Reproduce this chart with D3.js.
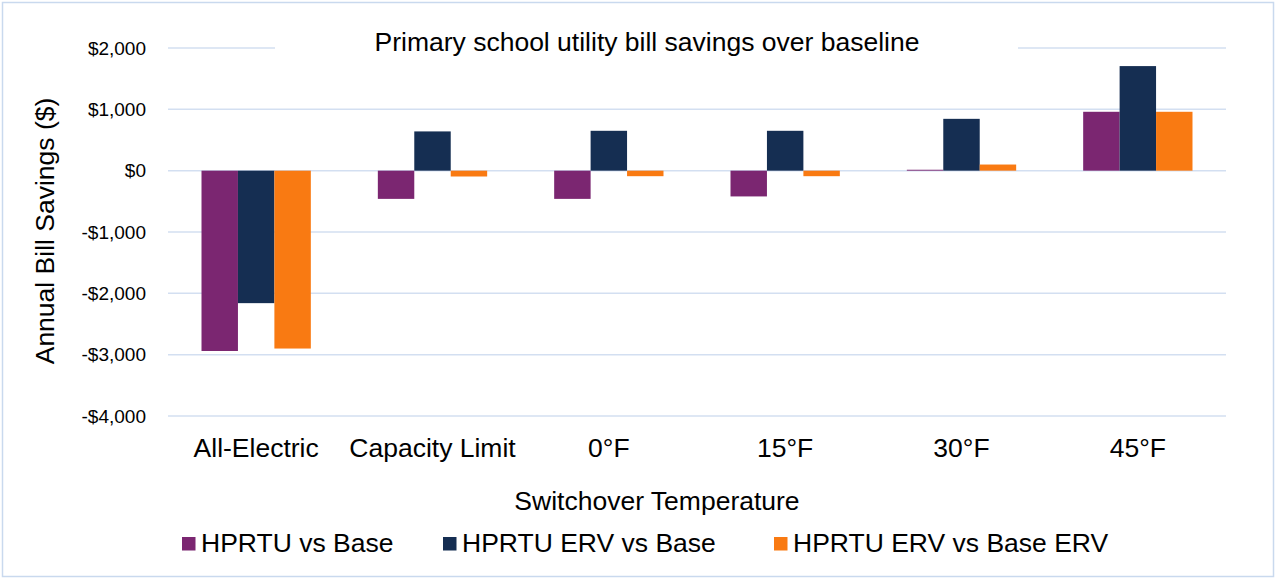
<!DOCTYPE html>
<html><head><meta charset="utf-8">
<script src="https://cdn.jsdelivr.net/npm/d3@7"></script>
<style>body{margin:0;background:#fff;} svg{display:block;font-family:"Liberation Sans",Arial,sans-serif;}</style>
</head><body>
<script>
const categories = ["All-Electric","Capacity Limit","0°F","15°F","30°F","45°F"];
const seriesNames = ["HPRTU vs Base","HPRTU ERV vs Base","HPRTU ERV vs Base ERV"];
const hprtuVsBase = [-2940,-460,-460,-420,15,960];
const hprtuErvVsBase = [-2160,640,650,650,845,1705];
const hprtuErvVsBaseErv = [-2900,-95,-90,-90,100,960];
const yTicks = [2000,1000,0,-1000,-2000,-3000,-4000];
const colors = ["#7B2671","#152E52","#F97A12"];
const series = [hprtuVsBase,hprtuErvVsBase,hprtuErvVsBaseErv];

(function(){
const W=1276,H=579, FS=26.5;
const svg=d3.select("body").append("svg").attr("width",W).attr("height",H);
svg.append("rect").attr("x",2.5).attr("y",2.5).attr("width",W-5).attr("height",H-5).attr("fill","#fff").attr("stroke","#C9D9EE").attr("stroke-width",1.5);

const pl=168,pr=1226,pt=48,pb=416;
const y=d3.scaleLinear().domain([-4000,2000]).range([pb,pt]);
const x0=d3.scaleBand().domain(categories).range([pl,pr]).paddingInner(0.38).paddingOuter(0.19);
const x1=d3.scaleBand().domain(seriesNames).range([0,x0.bandwidth()]);

svg.append("g").selectAll("line").data(yTicks).join("line")
  .attr("x1",pl).attr("x2",pr).attr("y1",d=>y(d)).attr("y2",d=>y(d))
  .attr("stroke","#D3DFF1").attr("stroke-width",1.5);

const fmt=d=>(d<0?"-":"")+"$"+d3.format(",")(Math.abs(d));
svg.append("g").selectAll("text").data(yTicks).join("text")
  .attr("x",146).attr("y",d=>y(d)).attr("dy","0.35em").attr("text-anchor","end")
  .attr("font-size",19).attr("fill","#000").text(fmt);

const g=svg.append("g");
categories.forEach((c,i)=>{
  series.forEach((s,j)=>{
    const v=s[i];
    g.append("rect").attr("x",x0(c)+x1(seriesNames[j])).attr("width",x1.bandwidth())
      .attr("y",y(Math.max(0,v))).attr("height",Math.abs(y(v)-y(0)))
      .attr("fill",colors[j]);
  });
});

svg.append("g").selectAll("text").data(categories).join("text")
  .attr("x",d=>x0(d)+x0.bandwidth()/2).attr("y",457).attr("text-anchor","middle")
  .attr("font-size",FS).text(d=>d);

svg.append("rect").attr("x",275).attr("y",28).attr("width",743).attr("height",32).attr("fill","#fff");
svg.append("text").attr("x",647).attr("y",51).attr("text-anchor","middle").attr("font-size",FS).text("Primary school utility bill savings over baseline");

svg.append("text").attr("transform","translate(54,231) rotate(-90)").attr("text-anchor","middle").attr("font-size",FS).text("Annual Bill Savings ($)");
svg.append("text").attr("x",657).attr("y",510).attr("text-anchor","middle").attr("font-size",FS).text("Switchover Temperature");

const legX=[182,443,774];
seriesNames.forEach((n,j)=>{
  svg.append("rect").attr("x",legX[j]).attr("y",537).attr("width",13.5).attr("height",13.5).attr("fill",colors[j]);
  svg.append("text").attr("x",legX[j]+19).attr("y",552).attr("font-size",FS).text(n);
});
})();
</script>
</body></html>
